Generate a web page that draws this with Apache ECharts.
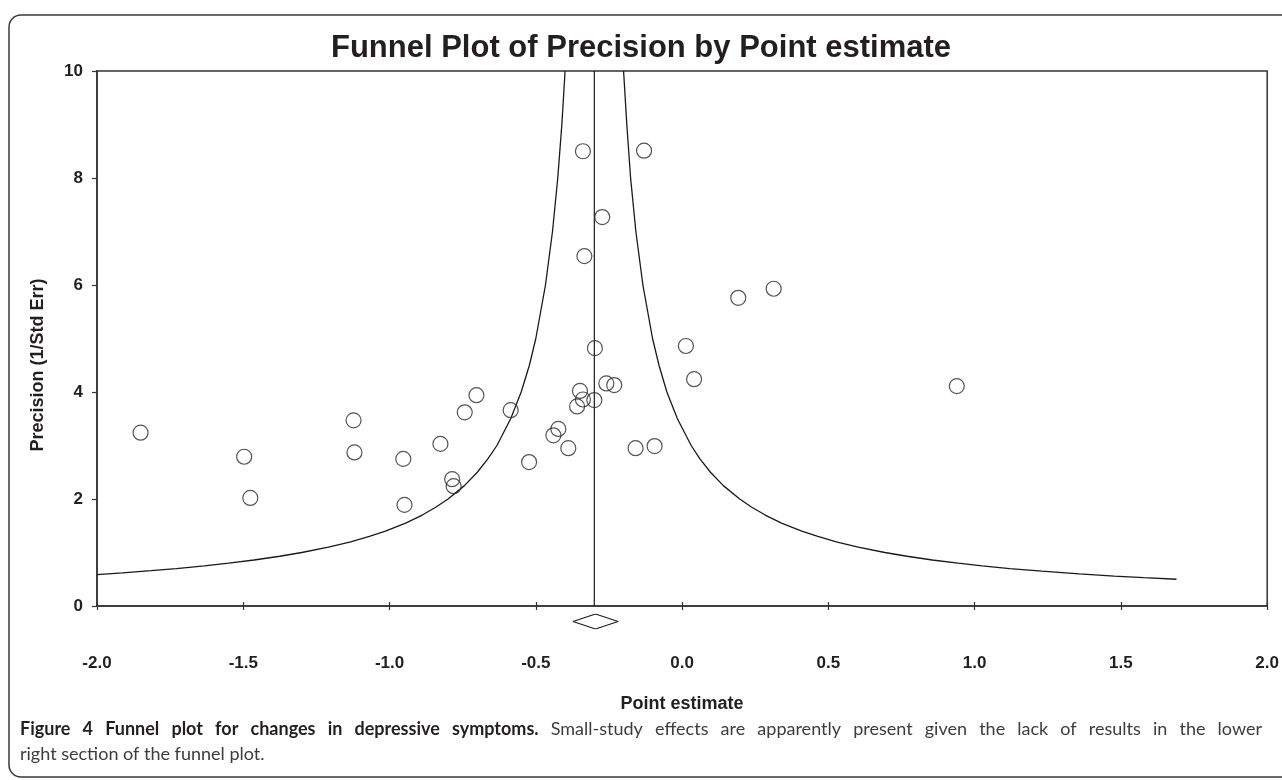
<!DOCTYPE html>
<html><head><meta charset="utf-8">
<script src="https://cdn.jsdelivr.net/npm/echarts@6/dist/echarts.min.js"></script>
<style>html,body{margin:0;padding:0;background:#fff}#chart{width:1282px;height:780px}</style>
</head><body><div id="chart"></div>
<script>
// Study point estimates and precisions (1/SE)
const pointEstimate = [-1.851,-1.497,-1.476,-1.123,-1.120,-0.953,-0.949,-0.826,-0.786,-0.781,-0.743,-0.703,
  -0.586,-0.523,-0.440,-0.423,-0.389,-0.359,-0.349,-0.339,-0.300,-0.298,-0.259,-0.232,-0.159,-0.094,
  0.013,0.041,0.192,0.313,0.939,-0.339,-0.130,-0.273,-0.334];
const precision = [3.24,2.79,2.02,3.47,2.87,2.75,1.89,3.03,2.37,2.24,3.62,3.94,
  3.66,2.69,3.19,3.31,2.95,3.73,4.02,3.86,3.85,4.82,4.16,4.13,2.95,2.99,
  4.86,4.24,5.76,5.93,4.11,8.50,8.51,7.27,6.54];

// Pooled estimate and its confidence interval (diamond)
const pooledEstimate = -0.30;
const pooledCI = [-0.377, -0.223];

// Funnel boundary curves
const leftFunnelPrecision = [0.588,0.62,0.66,0.70,0.75,0.80,0.86,0.93,1.00,1.10,1.20,1.30,1.40,1.55,1.70,1.85,2.00,2.25,2.50,2.75,3.00,3.50,4.00,4.50,5.00,6.00,7.00,8.00,9.00,10.0];
const leftFunnelX = [-2.000,-1.913,-1.815,-1.729,-1.633,-1.550,-1.463,-1.375,-1.300,-1.209,-1.133,-1.069,-1.014,-0.945,-0.888,-0.841,-0.800,-0.744,-0.700,-0.664,-0.633,-0.586,-0.550,-0.522,-0.500,-0.467,-0.443,-0.425,-0.411,-0.400];
const rightFunnelPrecision = [0.50,0.53,0.56,0.60,0.65,0.70,0.75,0.80,0.86,0.93,1.00,1.10,1.20,1.30,1.40,1.55,1.70,1.85,2.00,2.25,2.50,2.75,3.00,3.50,4.00,4.50,5.00,6.00,7.00,8.00,9.00,10.0];
const rightFunnelX = [1.690,1.578,1.477,1.358,1.230,1.120,1.026,0.943,0.855,0.769,0.693,0.602,0.527,0.464,0.409,0.340,0.284,0.237,0.197,0.141,0.097,0.061,0.031,-0.016,-0.052,-0.079,-0.101,-0.134,-0.158,-0.176,-0.189,-0.200];

const xRange = [-2, 2], xStep = 0.5;
const yRange = [0, 10], yStep = 2;

const titleText = 'Funnel Plot of Precision by Point estimate';
const xTitle = 'Point estimate';
const yTitle = 'Precision (1/Std Err)';
const captionBold = 'Figure 4 Funnel plot for changes in depressive symptoms.';
const captionRest1 = 'Small-study effects are apparently present given the lack of results in the lower';
const captionLine2 = 'right section of the funnel plot.';

const zip = (a, b) => a.map((v, i) => [v, b[i]]);
const FONT = '"Liberation Sans", Arial, sans-serif';
const INK = '#231f20';
const CAP_FONT = 'Lato, "Open Sans", sans-serif';
const CAP_SIZE = 18;
const CAP_BOLD_COLOR = '#231f20';
const CAP_COLOR = '#3c3c3c';

// justified first caption line (word by word)
const measureCtx = document.createElement('canvas').getContext('2d');
function textWidth(t, bold) {
  measureCtx.font = (bold ? 'bold ' : '') + CAP_SIZE + 'px ' + CAP_FONT;
  return measureCtx.measureText(t).width;
}
const capWords = captionBold.split(' ').map(w => ({w, b: true}))
  .concat(captionRest1.split(' ').map(w => ({w, b: false})));
const capX0 = 20, capX1 = 1262;
const wordsW = capWords.reduce((s, o) => s + textWidth(o.w, o.b), 0);
const gap = (capX1 - capX0 - wordsW) / (capWords.length - 1);
const captionGraphics = [];
let cx = capX0;
capWords.forEach(o => {
  captionGraphics.push({type: 'text', x: cx, y: 729, silent: true,
    style: {text: o.w, fontFamily: CAP_FONT, fontSize: CAP_SIZE, fontWeight: o.b ? 'bold' : 'normal',
            fill: o.b ? CAP_BOLD_COLOR : CAP_COLOR, verticalAlign: 'middle'}});
  cx += textWidth(o.w, o.b) + gap;
});

const chart = echarts.init(document.getElementById('chart'), null, {renderer: 'canvas'});
chart.setOption({
  animation: false,
  backgroundColor: '#ffffff',
  title: {
    text: titleText, left: 'center', top: 33, padding: 0,
    textStyle: {fontFamily: FONT, fontSize: 31, fontWeight: 'bold', color: INK}
  },
  grid: [
    {left: 97, right: 12, top: 71, bottom: 174, show: true, borderColor: '#333', borderWidth: 1.5, backgroundColor: 'transparent'},
    {left: 97, right: 12, top: 614, height: 15, show: false}
  ],
  xAxis: [
    {gridIndex: 0, type: 'value', min: xRange[0], max: xRange[1], interval: xStep, position: 'bottom',
     axisLine: {show: true, onZero: false, lineStyle: {color: '#333', width: 1.5}},
     axisTick: {show: true, inside: true, length: 4, lineStyle: {color: '#333', width: 1.2}},
     splitLine: {show: false},
     axisLabel: {margin: 49, fontFamily: FONT, fontSize: 17, fontWeight: 'bold', color: INK,
                 formatter: v => v.toFixed(1)},
     name: xTitle, nameLocation: 'middle', nameGap: 89,
     nameTextStyle: {fontFamily: FONT, fontSize: 18, fontWeight: 'bold', color: INK}},
    {gridIndex: 0, type: 'value', min: xRange[0], max: xRange[1], interval: xStep, position: 'bottom',
     axisLine: {show: false, onZero: false}, axisLabel: {show: false}, splitLine: {show: false},
     axisTick: {show: true, inside: false, length: 4, lineStyle: {color: '#333', width: 1.2}}},
    {gridIndex: 1, type: 'value', min: xRange[0], max: xRange[1], show: false}
  ],
  yAxis: [
    {gridIndex: 0, type: 'value', min: yRange[0], max: yRange[1], interval: yStep,
     axisLine: {show: true, onZero: false, lineStyle: {color: '#333', width: 1.5}},
     axisTick: {show: true, inside: false, length: 5, lineStyle: {color: '#333', width: 1.2}},
     splitLine: {show: false},
     axisLabel: {margin: 14, fontFamily: FONT, fontSize: 17, fontWeight: 'bold', color: INK}},
    {gridIndex: 1, type: 'value', min: -1, max: 1, show: false}
  ],
  series: [
    {type: 'line', name: 'Lower limit', xAxisIndex: 0, yAxisIndex: 0,
     data: zip(leftFunnelX, leftFunnelPrecision), showSymbol: false, smooth: false,
     lineStyle: {color: '#1a1a1a', width: 1.3}, silent: true},
    {type: 'line', name: 'Upper limit', xAxisIndex: 0, yAxisIndex: 0,
     data: zip(rightFunnelX, rightFunnelPrecision), showSymbol: false, smooth: false,
     lineStyle: {color: '#1a1a1a', width: 1.3}, silent: true},
    {type: 'line', name: 'Pooled', xAxisIndex: 0, yAxisIndex: 0,
     data: [[pooledEstimate, yRange[0]], [pooledEstimate, yRange[1]]], showSymbol: false,
     lineStyle: {color: '#1a1a1a', width: 1.2}, silent: true},
    {type: 'scatter', name: 'Studies', xAxisIndex: 0, yAxisIndex: 0,
     data: zip(pointEstimate, precision), symbol: 'circle', symbolSize: 15,
     itemStyle: {color: 'rgba(0,0,0,0)', borderColor: '#2a2a2a', borderWidth: 1.2}, z: 5},
    {type: 'line', name: 'Diamond', xAxisIndex: 2, yAxisIndex: 1,
     data: [[pooledCI[0], 0], [pooledEstimate, 1], [pooledCI[1], 0], [pooledEstimate, -1], [pooledCI[0], 0]],
     showSymbol: false, lineStyle: {color: '#1a1a1a', width: 1.1}, silent: true}
  ],
  graphic: [
    {type: 'rect', shape: {x: 9, y: 15, width: 1300, height: 762, r: 12},
     style: {fill: 'none', stroke: '#3a3a3a', lineWidth: 1.5}, silent: true},
    {type: 'text', x: 38, y: 365, rotation: Math.PI / 2,
     style: {text: yTitle, fontFamily: FONT, fontSize: 18, fontWeight: 'bold', fill: INK,
             align: 'center', verticalAlign: 'middle'}},
    ...captionGraphics,
    {type: 'text', x: 20, y: 754,
     style: {text: captionLine2, fontFamily: CAP_FONT, fontSize: CAP_SIZE, fill: CAP_COLOR,
             verticalAlign: 'middle'}}
  ]
});
</script>
</body></html>
